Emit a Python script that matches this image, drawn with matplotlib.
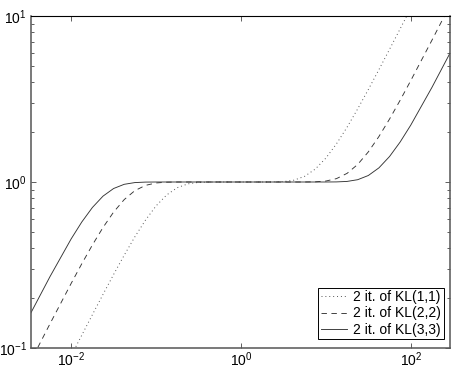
import matplotlib
matplotlib.use('Agg')
import matplotlib.pyplot as plt
from matplotlib.ticker import LogLocator, NullLocator, NullFormatter

plt.rcParams['font.family'] = ['Liberation Sans', 'DejaVu Sans']
plt.rcParams['mathtext.default'] = 'regular'

log_x = [-2.5, -2.25, -2.0, -1.875, -1.75, -1.625, -1.5, -1.375, -1.25, -1.125,
         -1.0, -0.875, -0.75, -0.625, -0.5, -0.375, -0.25, -0.125, 0.0,
         0.125, 0.25, 0.375, 0.5, 0.625, 0.75, 0.875, 1.0, 1.125, 1.25,
         1.375, 1.5, 1.625, 1.75, 1.875, 2.0, 2.25, 2.5]

# 2 iterations of KL(1,1)
kl11 = [0.02845, 0.05057, 0.08976, 0.1194, 0.1587, 0.2103, 0.2773, 0.3625, 0.4673, 0.5890,
        0.7178, 0.8359, 0.9243, 0.9746, 0.9945, 0.9994, 1.0, 1.0, 1.0,
        1.0, 1.0, 1.0006, 1.0055, 1.026, 1.082, 1.196, 1.393, 1.698, 2.140,
        2.759, 3.606, 4.755, 6.301, 8.375, 11.14, 19.78, 35.15]

# 2 iterations of KL(2,2)
kl22 = [0.07889, 0.1397, 0.2449, 0.3216, 0.4175, 0.5320, 0.6589, 0.7837, 0.8869, 0.9543,
        0.9868, 0.9976, 0.9998, 1.0, 1.0, 1.0, 1.0, 1.0, 1.0,
        1.0, 1.0, 1.0, 1.0, 1.0, 1.0002, 1.0024, 1.0134, 1.0479, 1.1275,
        1.276, 1.518, 1.880, 2.395, 3.109, 4.083, 7.160, 12.68]

# 2 iterations of KL(3,3)
kl33 = [0.1537, 0.2688, 0.4542, 0.5740, 0.7021, 0.8218, 0.9138, 0.9685, 0.9920, 0.9987,
        0.9999, 1.0, 1.0, 1.0, 1.0, 1.0, 1.0, 1.0, 1.0,
        1.0, 1.0, 1.0, 1.0, 1.0, 1.0, 1.0, 1.0001, 1.0013, 1.0081,
        1.0325, 1.0943, 1.2168, 1.4243, 1.742, 2.202, 3.720, 6.506]

labels = ['2 it. of KL(1,1)', '2 it. of KL(2,2)', '2 it. of KL(3,3)']

xticks = [1e-2, 1e0, 1e2]
xticklabels = ['$10^{-2}$', '$10^{0}$', '$10^{2}$']
yticks = [1e-1, 1e0, 1e1]
yticklabels = ['$10^{-1}$', '$10^{0}$', '$10^{1}$']

x = [10 ** v for v in log_x]

fig = plt.figure(figsize=(4.58, 3.70), dpi=100)
ax = fig.add_axes([31 / 458, 22 / 370, 419 / 458, 332 / 370])

ax.plot(x, kl11, color='#555555', lw=0.7, linestyle=(0, (1, 3)), label=labels[0])
ax.plot(x, kl22, color='#333333', lw=0.65, linestyle=(0, (6, 5)), label=labels[1])
ax.plot(x, kl33, color='#333333', lw=0.65, linestyle='-', label=labels[2])

ax.set_xscale('log')
ax.set_yscale('log')
ax.set_xlim(10 ** -2.473, 10 ** 2.462)
ax.set_ylim(0.1, 10)

ax.set_xticks(xticks)
ax.set_xticklabels(xticklabels)
ax.xaxis.set_minor_locator(NullLocator())
ax.set_yticks(yticks)
ax.set_yticklabels(yticklabels)
ax.yaxis.set_minor_locator(LogLocator(base=10, subs=range(2, 10)))
ax.yaxis.set_minor_formatter(NullFormatter())

ax.tick_params(which='both', direction='in', top=True, right=True,
               labelsize=10, color='#444444')
ax.tick_params(which='major', length=3.5, width=0.6)
ax.tick_params(axis='x', which='major', pad=1.5)
ax.tick_params(axis='y', which='major', pad=3)
ax.tick_params(which='minor', length=2, width=0.6)

for side in ['left', 'bottom', 'right']:
    ax.spines[side].set_color('#555555')
    ax.spines[side].set_linewidth(1.1)
ax.spines['top'].set_color('k')
ax.spines['top'].set_linewidth(0.8)

leg = ax.legend(loc='lower right', bbox_to_anchor=(0.9857, 0.0262), borderaxespad=0,
                fontsize=10, fancybox=False, framealpha=1, edgecolor='k',
                borderpad=0.2, labelspacing=0.15, handlelength=1.9,
                handletextpad=0.45)
leg.get_frame().set_linewidth(0.7)

plt.savefig('out.png', dpi=100)
